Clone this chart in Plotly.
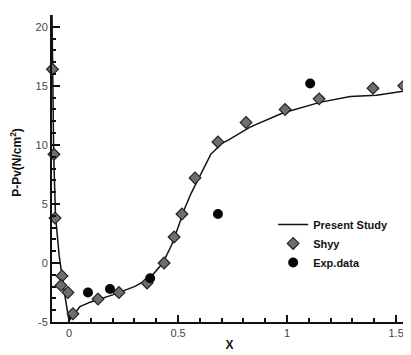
import plotly.graph_objects as go

# Present Study (line)
line_x = [-0.078, -0.074, -0.07, -0.062, -0.045, -0.022, 0.0, 0.03, 0.05, 0.1, 0.2, 0.3, 0.37,
          0.43, 0.47, 0.5, 0.53, 0.56, 0.6, 0.65, 0.7, 0.73, 0.83, 0.98, 1.15, 1.29, 1.41, 1.55]
line_y = [21.0, 14.0, 9.0, 4.0, 0.6, -2.4, -4.9, -4.2, -3.7, -3.3, -2.7, -2.0, -1.3,
          0.0, 1.5, 3.0, 4.6, 5.9, 7.4, 9.2, 10.1, 10.4, 11.5, 12.7, 13.6, 14.1, 14.2, 14.6]

# Shyy (diamonds)
shyy_x = [-0.076, -0.069, -0.064, -0.032, -0.037, -0.005, 0.018, 0.133, 0.229, 0.358,
          0.436, 0.482, 0.518, 0.578, 0.683, 0.812, 0.991, 1.147, 1.394, 1.535]
shyy_y = [16.4, 9.2, 3.8, -1.1, -1.9, -2.5, -4.3, -3.05, -2.5, -1.7,
          0.0, 2.2, 4.15, 7.2, 10.25, 11.9, 13.0, 13.9, 14.8, 15.0]

# Exp.data (circles)
exp_x = [0.087, 0.188, 0.372, 0.683, 1.106]
exp_y = [-2.5, -2.2, -1.3, 4.15, 15.2]

FONT = "Liberation Sans, Arial, sans-serif"

fig = go.Figure()
fig.add_trace(go.Scatter(x=line_x, y=line_y, mode="lines", name="Present Study",
                         line=dict(color="#111111", width=1.5)))
fig.add_trace(go.Scatter(x=shyy_x, y=shyy_y, mode="markers", name="Shyy",
                         cliponaxis=False,
                         marker=dict(symbol="diamond", size=9, color="#6e6e6e",
                                     line=dict(color="#222222", width=1.2))))
fig.add_trace(go.Scatter(x=exp_x, y=exp_y, mode="markers", name="Exp.data",
                         marker=dict(symbol="circle", size=10, color="#050505",
                                     line=dict(width=0))))

# page body has an 8px default margin, so the figure is 8px smaller than the window
fig.update_layout(
    width=403, height=347,
    margin=dict(l=44, r=4, t=7, b=33, autoexpand=False),
    paper_bgcolor="white", plot_bgcolor="white",
    font=dict(family=FONT, size=11, color="#333333"),
    legend=dict(x=0.623, y=0.365, xanchor="left", yanchor="top",
                bgcolor="rgba(0,0,0,0)", tracegroupgap=0,
                font=dict(family=FONT, size=11, color="#111111", weight="bold")),
    xaxis=dict(range=[-0.078, 1.55], showgrid=False, zeroline=False, automargin=False,
               showline=True, linecolor="#111111", linewidth=2,
               ticks="inside", ticklen=7, tickwidth=1.5, tickcolor="#111111",
               tickvals=[0, 0.5, 1, 1.5], ticktext=["0", "0.5", "1", "1.5"],
               minor=dict(dtick=0.1, tick0=0, ticks="inside", ticklen=4, tickcolor="#111111"),
               tickfont=dict(size=11, color="#444444"),
               title=dict(text="<b>X</b>", standoff=2, font=dict(size=12, color="#111111"))),
    yaxis=dict(range=[-5, 21.0], showgrid=False, zeroline=False, automargin=False,
               showline=True, linecolor="#111111", linewidth=2,
               ticks="inside", ticklen=8, tickwidth=1.5, tickcolor="#111111",
               tickvals=[-5, 0, 5, 10, 15, 20], ticktext=["-5", "0", "5", "10", "15", "20"],
               minor=dict(dtick=1, tick0=0, ticks="inside", ticklen=4, tickcolor="#111111"),
               tickfont=dict(size=11, color="#444444")),
    annotations=[dict(text="<b>P-Pv(N/cm<sup>2</sup>)</b>", textangle=-90,
                      xref="paper", yref="paper", x=-0.1, y=0.52,
                      xanchor="center", yanchor="middle", showarrow=False,
                      font=dict(family=FONT, size=12, color="#111111"))],
)

fig.write_html("out.html")
